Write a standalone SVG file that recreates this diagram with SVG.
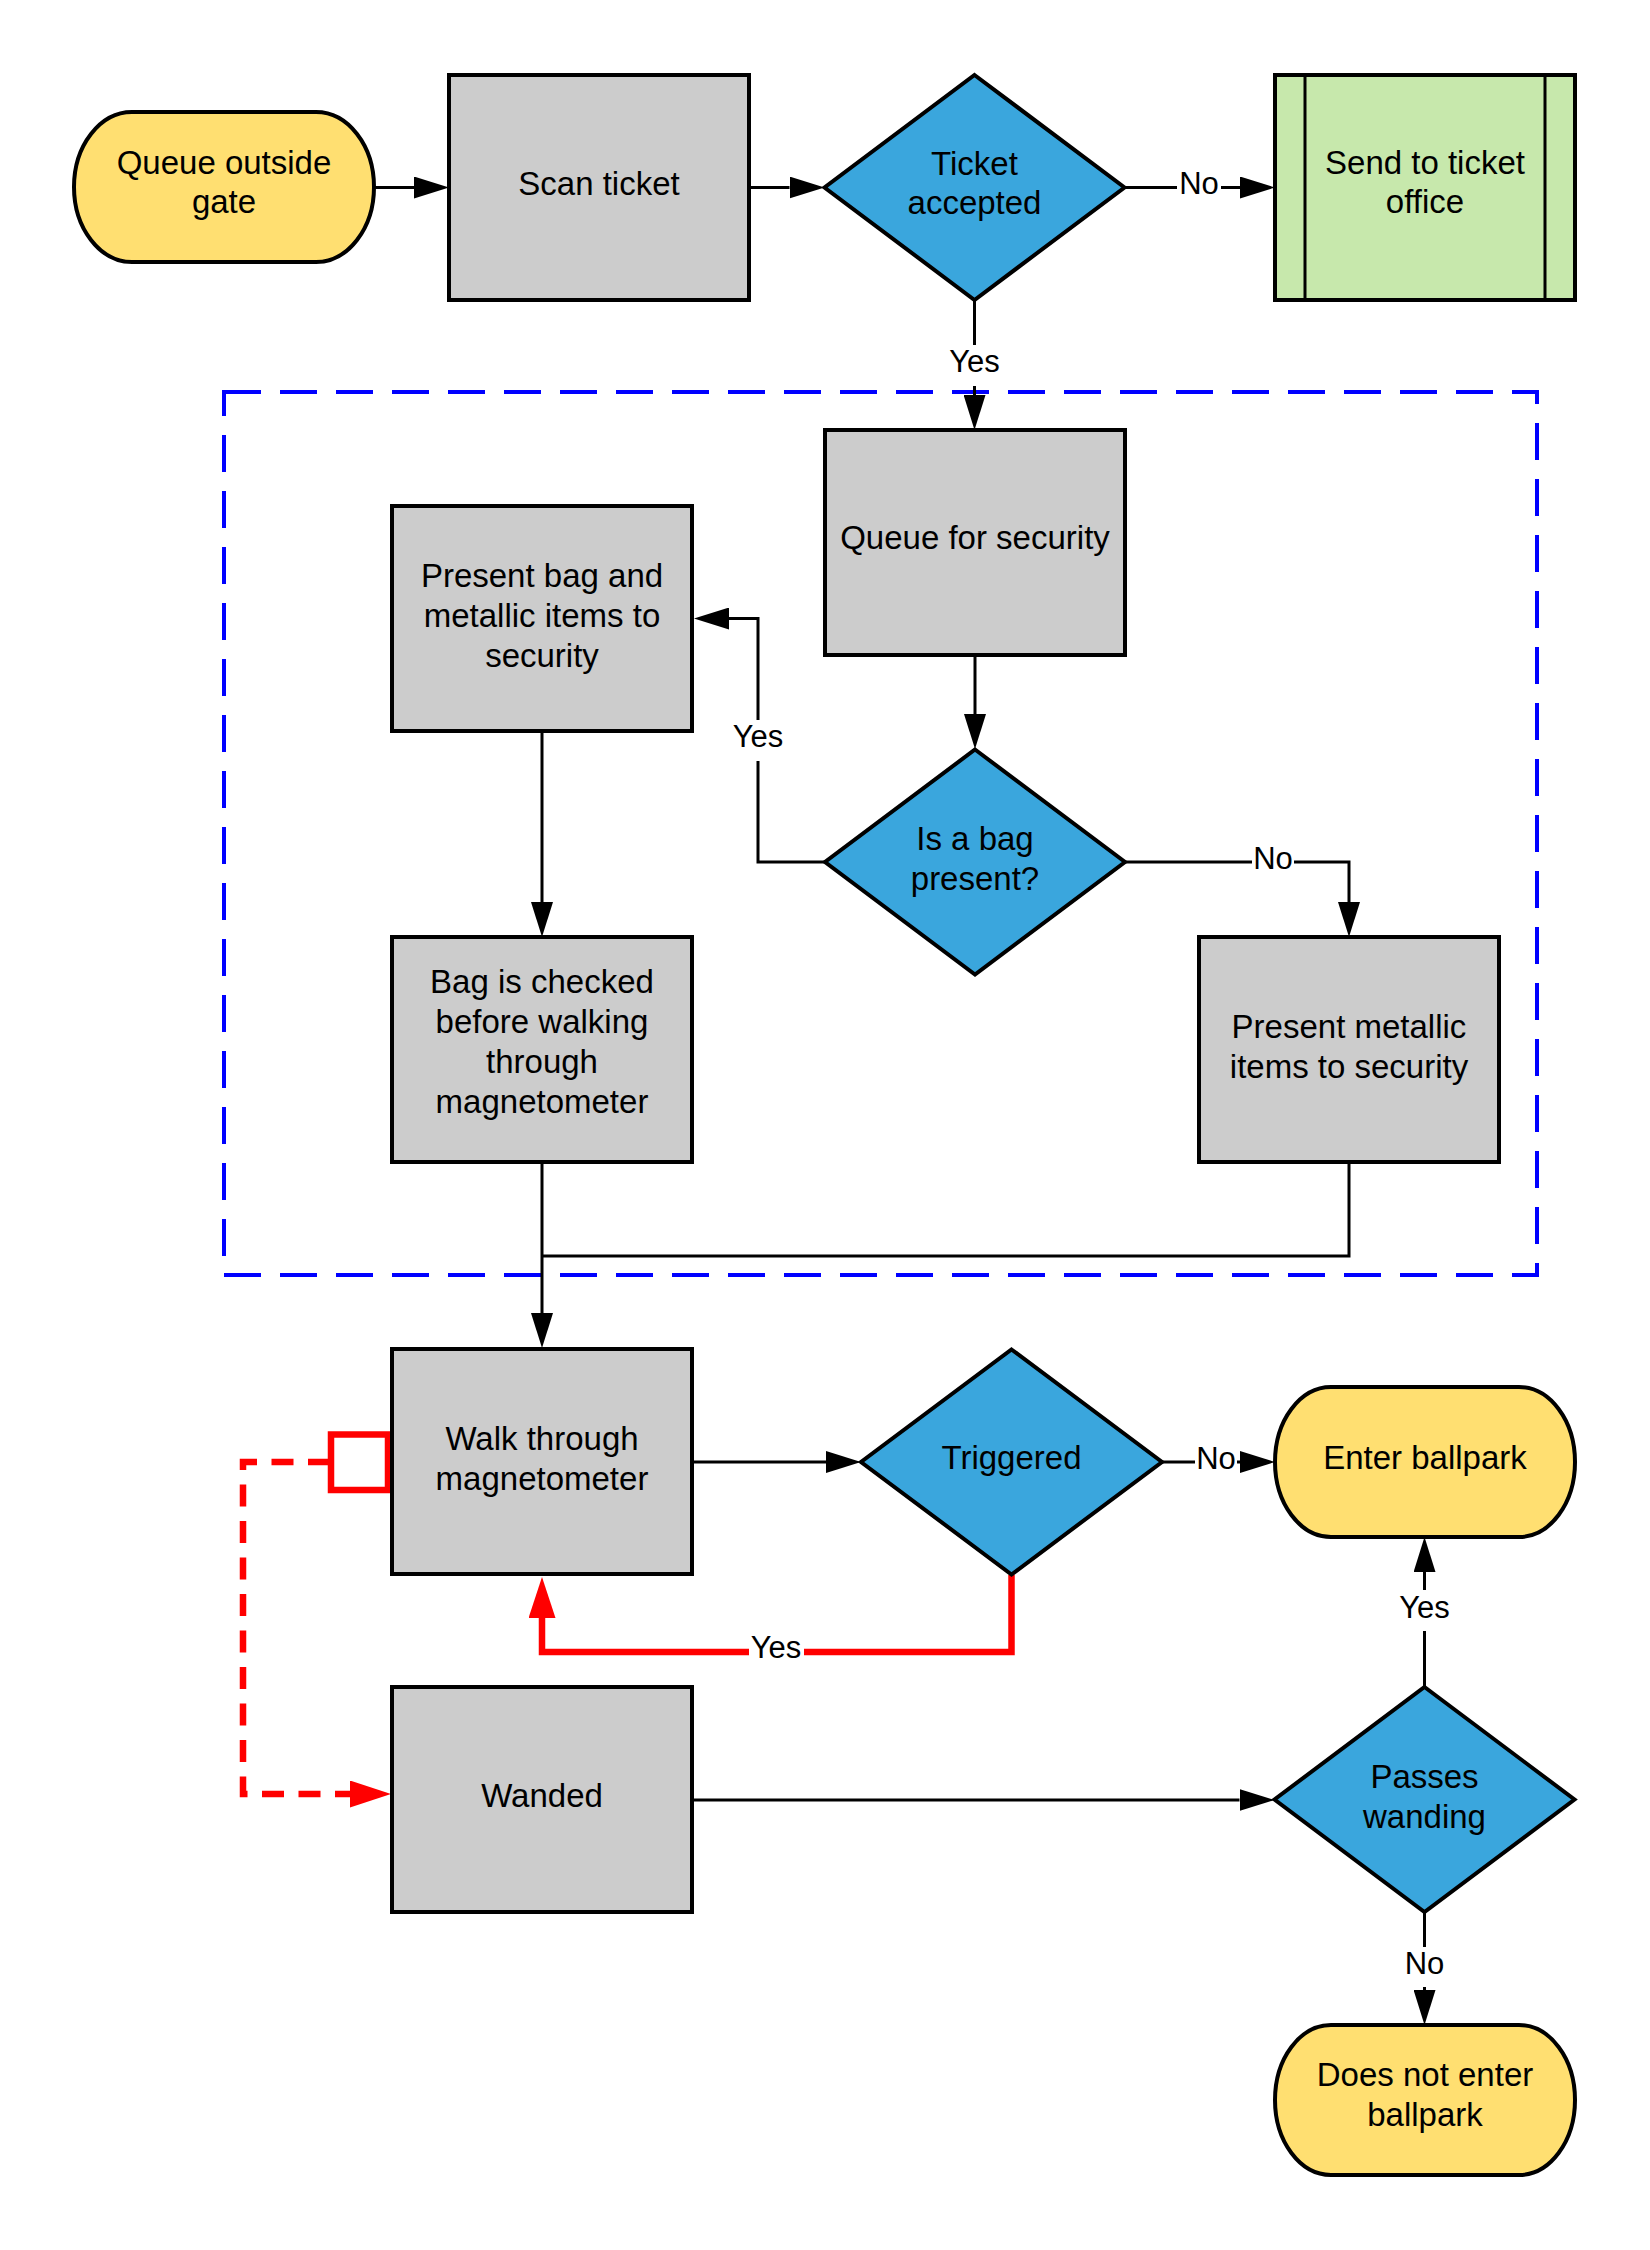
<svg xmlns="http://www.w3.org/2000/svg" width="1650" height="2250" viewBox="0 0 1650 2250">
<style>
.t{font-family:"Liberation Sans",Arial,sans-serif;font-size:33px;fill:#000;text-anchor:middle}
.l{font-family:"Liberation Sans",Arial,sans-serif;font-size:31px;fill:#000;text-anchor:middle}
.proc{fill:#cccccc;stroke:#000;stroke-width:4}
.term{fill:#ffdf71;stroke:#000;stroke-width:4}
.dec{fill:#3aa6dd;stroke:#000;stroke-width:4}
.sub{fill:#c7e8ac;stroke:#000;stroke-width:4}
.c{fill:none;stroke:#000;stroke-width:3}
.r{fill:none;stroke:#ff0000;stroke-width:6.5}
.lb{fill:#fff}
</style>
<defs>
<marker id="ab" markerUnits="userSpaceOnUse" markerWidth="36" markerHeight="22" refX="0" refY="11" orient="auto" viewBox="0 0 36 22">
<path d="M0,0 L35,11 L0,22 Z" fill="#000"/>
</marker>
<marker id="ar" markerUnits="userSpaceOnUse" markerWidth="42" markerHeight="27" refX="0" refY="13.5" orient="auto" viewBox="0 0 42 27">
<path d="M0,0 L41,13.5 L0,27 Z" fill="#ff0000"/>
</marker>
</defs>
<rect width="1650" height="2250" fill="#fff"/>

<g id="security-group">
<rect x="224" y="392" width="1313" height="883" fill="none" stroke="#0000ff" stroke-width="4" stroke-dasharray="37 19"/>
</g>

<g id="connectors">
<path class="c" d="M374,187.5 L414,187.5" marker-end="url(#ab)"/>
<path class="c" d="M749,187.5 L789.5,187.5" marker-end="url(#ab)"/>
<path class="c" d="M1124.5,187.5 L1240,187.5" marker-end="url(#ab)"/>
<path class="c" d="M974.5,300 L974.5,395" marker-end="url(#ab)"/>
<path class="c" d="M975,655 L975,714" marker-end="url(#ab)"/>
<path class="c" d="M825,862 L758,862 L758,618.5 L729,618.5" marker-end="url(#ab)"/>
<path class="c" d="M1125,862 L1349,862 L1349,902" marker-end="url(#ab)"/>
<path class="c" d="M542,731 L542,902" marker-end="url(#ab)"/>
<path class="c" d="M542,1162 L542,1313" marker-end="url(#ab)"/>
<path class="c" d="M1349,1162 L1349,1256 L542,1256"/>
<path class="c" d="M692,1462 L826,1462" marker-end="url(#ab)"/>
<path class="c" d="M1162,1462 L1240,1462" marker-end="url(#ab)"/>
<path class="r" d="M1011.5,1575 L1011.5,1652 L542,1652 L542,1618" marker-end="url(#ar)"/>
<path class="r" d="M330,1462 L243,1462 L243,1794 L350,1794" stroke-dasharray="22 14.5" marker-end="url(#ar)"/>
<rect x="331" y="1434.5" width="57" height="55.5" fill="#fff" stroke="#ff0000" stroke-width="6.5"/>
<path class="c" d="M692,1800 L1239.5,1800" marker-end="url(#ab)"/>
<path class="c" d="M1424.5,1687 L1424.5,1572" marker-end="url(#ab)"/>
<path class="c" d="M1424.5,1912 L1424.5,1990" marker-end="url(#ab)"/>

<rect class="lb" x="1177" y="170" width="44" height="34"/>
<text class="l" x="1199" y="194">No</text>
<rect class="lb" x="945" y="345" width="60" height="41"/>
<text class="l" x="974.5" y="372">Yes</text>
<rect class="lb" x="729" y="720" width="58" height="41"/>
<text class="l" x="758" y="747">Yes</text>
<rect class="lb" x="1252" y="845" width="42" height="34"/>
<text class="l" x="1273" y="869">No</text>
<rect class="lb" x="1195" y="1445" width="42" height="34"/>
<text class="l" x="1216" y="1469">No</text>
<rect class="lb" x="749" y="1635" width="55" height="34"/>
<text class="l" x="776" y="1658">Yes</text>
<rect class="lb" x="1396" y="1590" width="58" height="41"/>
<text class="l" x="1424.5" y="1618">Yes</text>
<rect class="lb" x="1403" y="1947" width="43" height="40"/>
<text class="l" x="1424.5" y="1974">No</text>
</g>

<g id="queue-outside-gate">
<rect class="term" x="74" y="112" width="300" height="150" rx="58" ry="75"/>
<text class="t" x="224" y="174">Queue outside</text>
<text class="t" x="224" y="213">gate</text>
</g>
<g id="scan-ticket">
<rect class="proc" x="449" y="75" width="300" height="225"/>
<text class="t" x="599" y="195">Scan ticket</text>
</g>
<g id="ticket-accepted">
<polygon class="dec" points="974.5,75 1124.5,187.5 974.5,300 824.5,187.5"/>
<text class="t" x="974.5" y="175">Ticket</text>
<text class="t" x="974.5" y="214">accepted</text>
</g>
<g id="send-to-ticket-office">
<rect class="sub" x="1275" y="75" width="300" height="225"/>
<line x1="1305" y1="75" x2="1305" y2="300" stroke="#000" stroke-width="3"/>
<line x1="1545" y1="75" x2="1545" y2="300" stroke="#000" stroke-width="3"/>
<text class="t" x="1425" y="174">Send to ticket</text>
<text class="t" x="1425" y="213">office</text>
</g>
<g id="queue-for-security">
<rect class="proc" x="825" y="430" width="300" height="225"/>
<text class="t" x="975" y="549">Queue for security</text>
</g>
<g id="is-a-bag-present">
<polygon class="dec" points="975,749.5 1125,862 975,974.5 825,862"/>
<text class="t" x="975" y="850">Is a bag</text>
<text class="t" x="975" y="890">present?</text>
</g>
<g id="present-bag">
<rect class="proc" x="392" y="506" width="300" height="225"/>
<text class="t" x="542" y="587">Present bag and</text>
<text class="t" x="542" y="627">metallic items to</text>
<text class="t" x="542" y="667">security</text>
</g>
<g id="bag-is-checked">
<rect class="proc" x="392" y="937" width="300" height="225"/>
<text class="t" x="542" y="993">Bag is checked</text>
<text class="t" x="542" y="1033">before walking</text>
<text class="t" x="542" y="1073">through</text>
<text class="t" x="542" y="1113">magnetometer</text>
</g>
<g id="present-metallic-items">
<rect class="proc" x="1199" y="937" width="300" height="225"/>
<text class="t" x="1349" y="1038">Present metallic</text>
<text class="t" x="1349" y="1078">items to security</text>
</g>
<g id="walk-through-magnetometer">
<rect class="proc" x="392" y="1349" width="300" height="225"/>
<text class="t" x="542" y="1450">Walk through</text>
<text class="t" x="542" y="1490">magnetometer</text>
</g>
<g id="triggered">
<polygon class="dec" points="1011.5,1349.5 1162,1462 1011.5,1574.5 861,1462"/>
<text class="t" x="1011.5" y="1469">Triggered</text>
</g>
<g id="enter-ballpark">
<rect class="term" x="1275" y="1387" width="300" height="150" rx="56" ry="75"/>
<text class="t" x="1425" y="1469">Enter ballpark</text>
</g>
<g id="wanded">
<rect class="proc" x="392" y="1687" width="300" height="225"/>
<text class="t" x="542" y="1807">Wanded</text>
</g>
<g id="passes-wanding">
<polygon class="dec" points="1424.5,1687 1574.5,1799.5 1424.5,1912 1274.5,1799.5"/>
<text class="t" x="1424.5" y="1788">Passes</text>
<text class="t" x="1424.5" y="1828">wanding</text>
</g>
<g id="does-not-enter-ballpark">
<rect class="term" x="1275" y="2025" width="300" height="150" rx="56" ry="75"/>
<text class="t" x="1425" y="2086">Does not enter</text>
<text class="t" x="1425" y="2126">ballpark</text>
</g>
</svg>
